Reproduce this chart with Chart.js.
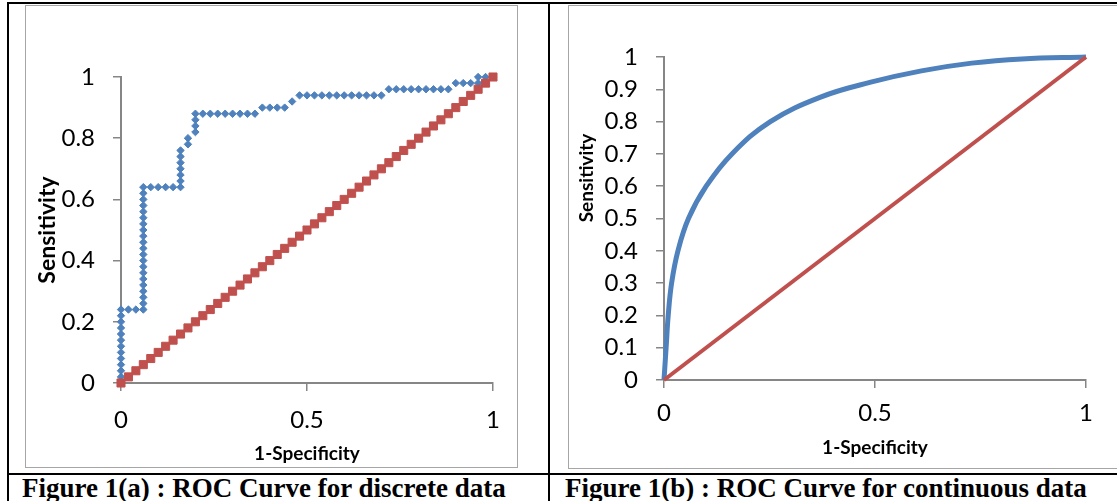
<!DOCTYPE html>
<html>
<head>
<meta charset="utf-8">
<script src="https://cdn.jsdelivr.net/npm/chart.js@4.4.1/dist/chart.umd.min.js"></script>
<style>
  html, body { margin: 0; padding: 0; background: #fff; }
  body { width: 1117px; height: 501px; position: relative; overflow: hidden; }
  .line { position: absolute; background: #000; }
  .frame { position: absolute; border: 1.5px solid #a6a6a6; box-sizing: border-box; }
  canvas { position: absolute; }
  .caption { position: absolute; top: 473px; line-height: 27px; font: bold 27px "Liberation Serif", "Times New Roman", serif; color: #000; white-space: nowrap; }
</style>
</head>
<body>
<div class="line" style="left:8px; top:2px; width:1109px; height:2px"></div>
<div class="line" style="left:7px; top:2px; width:2px; height:499px"></div>
<div class="line" style="left:548px; top:2px; width:2px; height:499px"></div>
<div class="line" style="left:8px; top:473px; width:1109px; height:2px"></div>

<div class="frame" style="left:25px; top:5px; width:493px; height:463px"></div>
<div class="frame" style="left:568px; top:5px; width:600px; height:464px"></div>

<canvas id="discrete" width="489" height="460" style="left:27px; top:6px"></canvas>
<canvas id="continuous" width="560" height="462" style="left:570px; top:6px"></canvas>

<div class="caption" style="left:22px">Figure 1(a) : ROC Curve for discrete data</div>
<div class="caption" style="left:565px">Figure 1(b) : ROC Curve for continuous data</div>

<script>
// discrete ROC (blue diamonds)
const discreteFpr = [0,0,0,0,0,0,0,0,0,0,0,0,0,
  0.02,0.04,0.06,
  0.06,0.06,0.06,0.06,0.06,0.06,0.06,0.06,0.06,0.06,0.06,0.06,0.06,0.06,0.06,0.06,0.06,0.06,0.06,0.06,
  0.08,0.10,0.12,0.14,0.16,
  0.16,0.16,0.16,0.16,0.16,0.16,
  0.18,0.18,
  0.20,0.20,0.20,0.20,
  0.22,0.24,0.26,0.28,0.30,0.32,0.34,0.36,
  0.38,0.40,0.42,0.44,
  0.46,
  0.48,0.50,0.52,0.54,0.56,0.58,0.60,0.62,0.64,0.66,0.68,0.70,
  0.72,0.74,0.76,0.78,0.80,0.82,0.84,0.86,0.88,
  0.90,0.92,0.94,0.96,
  0.96,0.98,1.00];
const discreteTpr = [0,0.02,0.04,0.06,0.08,0.10,0.12,0.14,0.16,0.18,0.20,0.22,0.24,
  0.24,0.24,0.24,
  0.26,0.28,0.30,0.32,0.34,0.36,0.38,0.40,0.42,0.44,0.46,0.48,0.50,0.52,0.54,0.56,0.58,0.60,0.62,0.64,
  0.64,0.64,0.64,0.64,0.64,
  0.66,0.68,0.70,0.72,0.74,0.76,
  0.78,0.80,
  0.82,0.84,0.86,0.88,
  0.88,0.88,0.88,0.88,0.88,0.88,0.88,0.88,
  0.90,0.90,0.90,0.90,
  0.92,
  0.94,0.94,0.94,0.94,0.94,0.94,0.94,0.94,0.94,0.94,0.94,0.94,
  0.96,0.96,0.96,0.96,0.96,0.96,0.96,0.96,0.96,
  0.98,0.98,0.98,0.98,
  1.00,1.00,1.00];

// reference diagonal (red squares)
const chanceLine = [0,0.02,0.04,0.06,0.08,0.10,0.12,0.14,0.16,0.18,0.20,0.22,0.24,0.26,0.28,0.30,
  0.32,0.34,0.36,0.38,0.40,0.42,0.44,0.46,0.48,0.50,0.52,0.54,0.56,0.58,0.60,0.62,0.64,0.66,
  0.68,0.70,0.72,0.74,0.76,0.78,0.80,0.82,0.84,0.86,0.88,0.90,0.92,0.94,0.96,0.98,1.00];

// continuous ROC curve
const contFpr = [0, 0.005, 0.01, 0.018, 0.033, 0.058, 0.10, 0.161, 0.252, 0.371, 0.49, 0.61, 0.729, 0.848, 1.0];
const contTpr = [0, 0.10, 0.20, 0.30, 0.40, 0.50, 0.60, 0.70, 0.80, 0.876, 0.922, 0.957, 0.981, 0.994, 1.0];
const diagEnds = [0, 1];

const blue = '#4F81BD';
const red = '#C0504D';
const axisGray = '#868686';

Chart.defaults.font.family = 'Lato';
Chart.defaults.color = '#000';

function pairs(xs, ys) {
  return xs.map((x, i) => ({x: x, y: ys[i]}));
}

function axis(opts) {
  return {
    type: 'linear',
    min: 0,
    max: 1,
    afterFit: s => {
      opts.fit(s);
      s.paddingLeft = 0; s.paddingRight = 0; s.paddingTop = 0; s.paddingBottom = 0;
    },
    grid: { drawOnChartArea: false, drawTicks: true, tickLength: 8, color: axisGray, lineWidth: 1.5 },
    border: { display: true, color: axisGray, width: 2 },
    ticks: {
      stepSize: opts.step,
      padding: opts.pad,
      font: { size: 24 },
      color: '#000',
      callback: v => String(Math.round(v * 10) / 10)
    },
    title: opts.title
  };
}

new Chart(document.getElementById('discrete'), {
  type: 'scatter',
  data: {
    datasets: [
      {
        data: chanceLine.map(v => ({x: v, y: v})),
        pointStyle: 'rect',
        pointRadius: 5.7,
        pointBackgroundColor: red,
        pointBorderColor: red,
        pointBorderWidth: 1,
        clip: false
      },
      {
        data: pairs(discreteFpr, discreteTpr),
        pointStyle: 'rectRot',
        pointRadius: 3.7,
        pointBackgroundColor: blue,
        pointBorderColor: blue,
        pointBorderWidth: 1,
        clip: false
      }
    ]
  },
  options: {
    responsive: false,
    animation: false,
    layout: { padding: { top: 71, right: 23, left: 0, bottom: 0 } },
    plugins: { legend: { display: false }, tooltip: { enabled: false } },
    scales: {
      x: axis({ step: 0.5, pad: 15, fit: s => { s.height = 83; },
        title: { display: true, text: '1-Specificity', font: { size: 19, weight: 'bold' }, padding: { top: 0, bottom: 1 } } }),
      y: axis({ step: 0.2, pad: 18, fit: s => { s.width = 94; },
        title: { display: true, text: 'Sensitivity', font: { size: 23, weight: 'bold' }, padding: { top: 7, bottom: 0 } } })
    }
  }
});

// Excel put this axis title above the middle of the axis
const sideTitle = {
  id: 'sideTitle',
  afterDraw(chart) {
    const ctx = chart.ctx;
    const area = chart.chartArea;
    ctx.save();
    ctx.translate(area.left - 77, area.top + 121);
    ctx.rotate(-Math.PI / 2);
    ctx.font = 'bold 19px Lato';
    ctx.fillStyle = '#000';
    ctx.textAlign = 'center';
    ctx.textBaseline = 'middle';
    ctx.fillText('Sensitivity', 0, 0);
    ctx.restore();
  }
};

new Chart(document.getElementById('continuous'), {
  type: 'scatter',
  data: {
    datasets: [
      {
        data: diagEnds.map(v => ({x: v, y: v})),
        showLine: true,
        borderColor: red,
        borderWidth: 4,
        pointRadius: 0,
        clip: false
      },
      {
        data: pairs(contFpr, contTpr),
        showLine: true,
        borderColor: blue,
        borderWidth: 5,
        tension: 0.4,
        pointRadius: 0,
        clip: false
      }
    ]
  },
  options: {
    responsive: false,
    animation: false,
    layout: { padding: { top: 51, right: 44, left: 0, bottom: 0 } },
    plugins: { legend: { display: false }, tooltip: { enabled: false } },
    scales: {
      x: axis({ step: 0.5, pad: 11, fit: s => { s.height = 88; },
        title: { display: true, text: '1-Specificity', font: { size: 19, weight: 'bold' }, padding: { top: 0, bottom: 9 } } }),
      y: axis({ step: 0.1, pad: 18, fit: s => { s.width = 94; }, title: { display: false } })
    }
  },
  plugins: [sideTitle]
});
</script>
</body>
</html>
